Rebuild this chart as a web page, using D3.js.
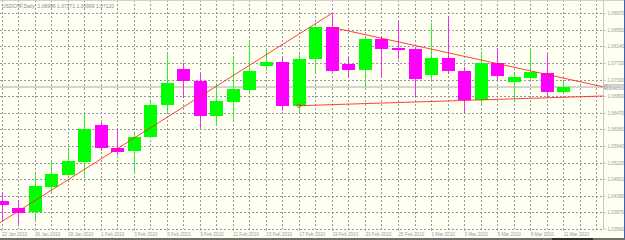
<!DOCTYPE html>
<html>
<head>
<meta charset="utf-8">
<script src="https://cdn.jsdelivr.net/npm/d3@7"></script>
<style>
    body { margin: 0; background: #ffffff; }
    svg { display: block; font-family: "Liberation Sans", Arial, sans-serif; }
</style>
</head>
<body>
<svg></svg>
<script>
const chartTitle = "USDCHF,Daily  1.06999 1.07271 1.06999 1.07120";

const dates = [
    "22 Jan 2010", "25 Jan 2010", "26 Jan 2010", "27 Jan 2010", "28 Jan 2010", "29 Jan 2010",
    "1 Feb 2010", "2 Feb 2010", "3 Feb 2010", "4 Feb 2010", "5 Feb 2010", "8 Feb 2010",
    "9 Feb 2010", "10 Feb 2010", "11 Feb 2010", "12 Feb 2010", "15 Feb 2010", "16 Feb 2010",
    "17 Feb 2010", "18 Feb 2010", "19 Feb 2010", "22 Feb 2010", "23 Feb 2010", "24 Feb 2010",
    "25 Feb 2010", "26 Feb 2010", "1 Mar 2010", "2 Mar 2010", "3 Mar 2010", "4 Mar 2010",
    "5 Mar 2010", "8 Mar 2010", "9 Mar 2010", "10 Mar 2010", "11 Mar 2010"
];

const opens = [
    1.04263, 1.04080, 1.03987, 1.04607, 1.04916, 1.05243, 1.06157, 1.05594, 1.05512, 1.05871,
    1.06667, 1.07571, 1.07270, 1.06398, 1.06750, 1.07044, 1.07654, 1.07747, 1.06649, 1.07815,
    1.08618, 1.07689, 1.07546, 1.08325, 1.08091, 1.08073, 1.07420, 1.07840, 1.07528, 1.06792,
    1.07729, 1.07245, 1.07353, 1.07478, 1.06999
];
const highs = [
    1.04489, 1.04281, 1.04951, 1.05260, 1.05579, 1.06458, 1.06232, 1.06064, 1.05996, 1.06792,
    1.07940, 1.07714, 1.07463, 1.07212, 1.07865, 1.08299, 1.08048, 1.07865, 1.08006, 1.08633,
    1.08965, 1.07865, 1.08342, 1.08407, 1.08784, 1.08131, 1.08734, 1.08902, 1.07629, 1.07965,
    1.08091, 1.07503, 1.08048, 1.07948, 1.07271
];
const lows = [
    1.03779, 1.03678, 1.03779, 1.04489, 1.04826, 1.04826, 1.05519, 1.05411, 1.04951, 1.05838,
    1.06458, 1.06835, 1.06082, 1.06165, 1.06273, 1.06961, 1.07528, 1.06524, 1.06473, 1.07445,
    1.07508, 1.07378, 1.07126, 1.07378, 1.07822, 1.06875, 1.07295, 1.07445, 1.06458, 1.06667,
    1.07295, 1.06750, 1.07295, 1.06860, 1.06999
];
const closes = [
    1.04155, 1.03962, 1.04632, 1.04941, 1.05253, 1.06072, 1.05594, 1.05494, 1.05871, 1.06667,
    1.07227, 1.07270, 1.06398, 1.06767, 1.07069, 1.07521, 1.07747, 1.06642, 1.07822, 1.08620,
    1.07528, 1.07546, 1.08325, 1.08073, 1.08048, 1.07312, 1.07840, 1.07528, 1.06792, 1.07729,
    1.07395, 1.07363, 1.07503, 1.07001, 1.07120
];

const priceTicks = [
    "1.08970", "1.08550", "1.08140", "1.07720", "1.07300", "1.06890", "1.06470",
    "1.06060", "1.05640", "1.05220", "1.04810", "1.04390", "1.03970", "1.03560"
];
const lastPrice = 1.07120;

// trend lines as [bar index, price] pairs
const trendUp = [[-0.09, 1.03711], [20, 1.08970]];
const trendDown = [[20, 1.08618], [34, 1.07344]];
const trendFloor = [[18, 1.06649], [34, 1.06861]];

function drawChart() {
    const width = 625, height = 240;
    const plotRight = 603, plotBottom = 229;

    let svg = d3.select('svg')
        .attr('width', width)
        .attr('height', height)
        .style('background-color', '#ffffff');

    svg.append('rect')
        .attr('x', 0).attr('y', 0)
        .attr('width', width).attr('height', height)
        .attr('fill', '#fffff2');

    let x = d3.scaleLinear()
        .domain([0, 36.41])
        .range([1.5, plotRight]);

    let y = d3.scaleLinear()
        .domain([+priceTicks[priceTicks.length - 1], +priceTicks[0]])
        .range([228.7, 13.3]);

    let grid = svg.append('g')
        .attr('stroke', '#9098a8')
        .attr('stroke-width', 1)
        .attr('stroke-dasharray', '2,2')
        .attr('shape-rendering', 'crispEdges');

    // horizontal grid on price labels
    grid.selectAll('line.h')
        .data(priceTicks)
        .enter().append('line')
        .attr('class', 'h')
        .attr('x1', 0)
        .attr('x2', plotRight)
        .attr('y1', d => Math.round(y(+d)) + 0.5)
        .attr('y2', d => Math.round(y(+d)) + 0.5);

    // vertical grid on every bar slot
    grid.selectAll('line.v')
        .data(d3.range(0, 37))
        .enter().append('line')
        .attr('class', 'v')
        .attr('x1', d => Math.round(x(d)) + 0.5)
        .attr('x2', d => Math.round(x(d)) + 0.5)
        .attr('y1', 0)
        .attr('y2', plotBottom);

    // current price line
    svg.append('line')
        .attr('x1', 0)
        .attr('x2', plotRight)
        .attr('y1', y(lastPrice))
        .attr('y2', y(lastPrice))
        .attr('stroke', '#c4c4c4')
        .attr('stroke-width', 1.6);

    let bars = dates.map((d, i) => ({
        i: i, open: opens[i], high: highs[i], low: lows[i], close: closes[i]
    }));
    let color = d => d.close >= d.open ? '#00ff00' : '#ff00ff';

    let candles = svg.append('g').attr('shape-rendering', 'crispEdges');

    candles.selectAll('line')
        .data(bars)
        .enter().append('line')
        .attr('x1', d => Math.round(x(d.i)) + 0.5)
        .attr('x2', d => Math.round(x(d.i)) + 0.5)
        .attr('y1', d => y(d.high))
        .attr('y2', d => y(d.low))
        .attr('stroke', color)
        .attr('stroke-opacity', 0.8);

    candles.selectAll('rect')
        .data(bars)
        .enter().append('rect')
        .attr('x', d => Math.round(x(d.i)) - 6)
        .attr('width', 13)
        .attr('y', d => y(Math.max(d.open, d.close)))
        .attr('height', d => Math.max(1.5, Math.abs(y(d.open) - y(d.close))))
        .attr('fill', color);

    // trend lines, the last two are rays to the right edge
    let extend = (line) => {
        let [a, b] = line;
        let slope = (b[1] - a[1]) / (b[0] - a[0]);
        let end = x.domain()[1];
        return [a, [end, a[1] + (end - a[0]) * slope]];
    };
    let lines = [trendUp, extend(trendDown), extend(trendFloor)];

    svg.append('g')
        .selectAll('line')
        .data(lines)
        .enter().append('line')
        .attr('x1', d => x(d[0][0]))
        .attr('y1', d => y(d[0][1]))
        .attr('x2', d => x(d[1][0]))
        .attr('y2', d => y(d[1][1]))
        .attr('stroke', '#ff2020')
        .attr('stroke-opacity', 0.85)
        .attr('stroke-width', 1);

    svg.append('circle')
        .attr('cx', x(trendFloor[0][0]))
        .attr('cy', y(trendFloor[0][1]))
        .attr('r', 1.8)
        .attr('fill', 'none')
        .attr('stroke', '#ff2020')
        .attr('stroke-width', 0.8);

    // right price axis
    let yAxis = svg.append('g')
        .attr('transform', `translate(${plotRight + 0.5}, 0)`)
        .call(d3.axisRight(y)
            .tickValues(priceTicks.map(Number))
            .tickFormat(d3.format('.5f'))
            .tickSize(2)
            .tickPadding(2));
    yAxis.select('.domain')
        .attr('stroke', '#c8c8c8')
        .attr('d', `M0,0V${plotBottom}`);
    yAxis.selectAll('.tick line').attr('stroke', '#b0b0b0');
    yAxis.selectAll('.tick text')
        .attr('fill', '#9a9a9a')
        .style('font-size', '4.6px');

    // current price box
    svg.append('rect')
        .attr('x', plotRight + 0.5)
        .attr('y', y(lastPrice) - 2.8)
        .attr('width', width - plotRight)
        .attr('height', 5.6)
        .attr('fill', '#c0c0c0');
    svg.append('text')
        .attr('x', plotRight + 4)
        .attr('y', y(lastPrice))
        .attr('dy', '0.35em')
        .attr('fill', '#f4f4f4')
        .style('font-size', '4.6px')
        .text(lastPrice.toFixed(5));

    // bottom date axis, labels on every second bar
    let xAxis = svg.append('g')
        .attr('transform', `translate(0, ${plotBottom})`)
        .call(d3.axisBottom(x)
            .tickValues(d3.range(0, dates.length, 2))
            .tickFormat(i => dates[i])
            .tickSize(2)
            .tickPadding(1.5));
    xAxis.select('.domain').remove();
    xAxis.selectAll('.tick line').attr('stroke', '#b0b0b0');
    xAxis.selectAll('.tick text')
        .attr('text-anchor', 'start')
        .attr('fill', '#9a9a9a')
        .style('font-size', '4.6px');

    // symbol title
    svg.append('text')
        .attr('x', 2)
        .attr('y', 8)
        .attr('fill', '#8c8c8c')
        .style('font-size', '5px')
        .style('white-space', 'pre')
        .text(chartTitle);

    // window frame
    svg.append('line')
        .attr('x1', 0).attr('x2', width)
        .attr('y1', 0.5).attr('y2', 0.5)
        .attr('stroke', '#d0d0d0');
    svg.append('rect')
        .attr('x', 0).attr('y', 238)
        .attr('width', width).attr('height', 2)
        .attr('fill', '#707070');
    svg.append('rect')
        .attr('x', 552).attr('y', 238)
        .attr('width', 41).attr('height', 2)
        .attr('fill', '#303030');
    svg.append('line')
        .attr('x1', 624.5).attr('x2', 624.5)
        .attr('y1', 0).attr('y2', 238)
        .attr('stroke', '#3d63b0');
}

drawChart();
</script>
</body>
</html>
